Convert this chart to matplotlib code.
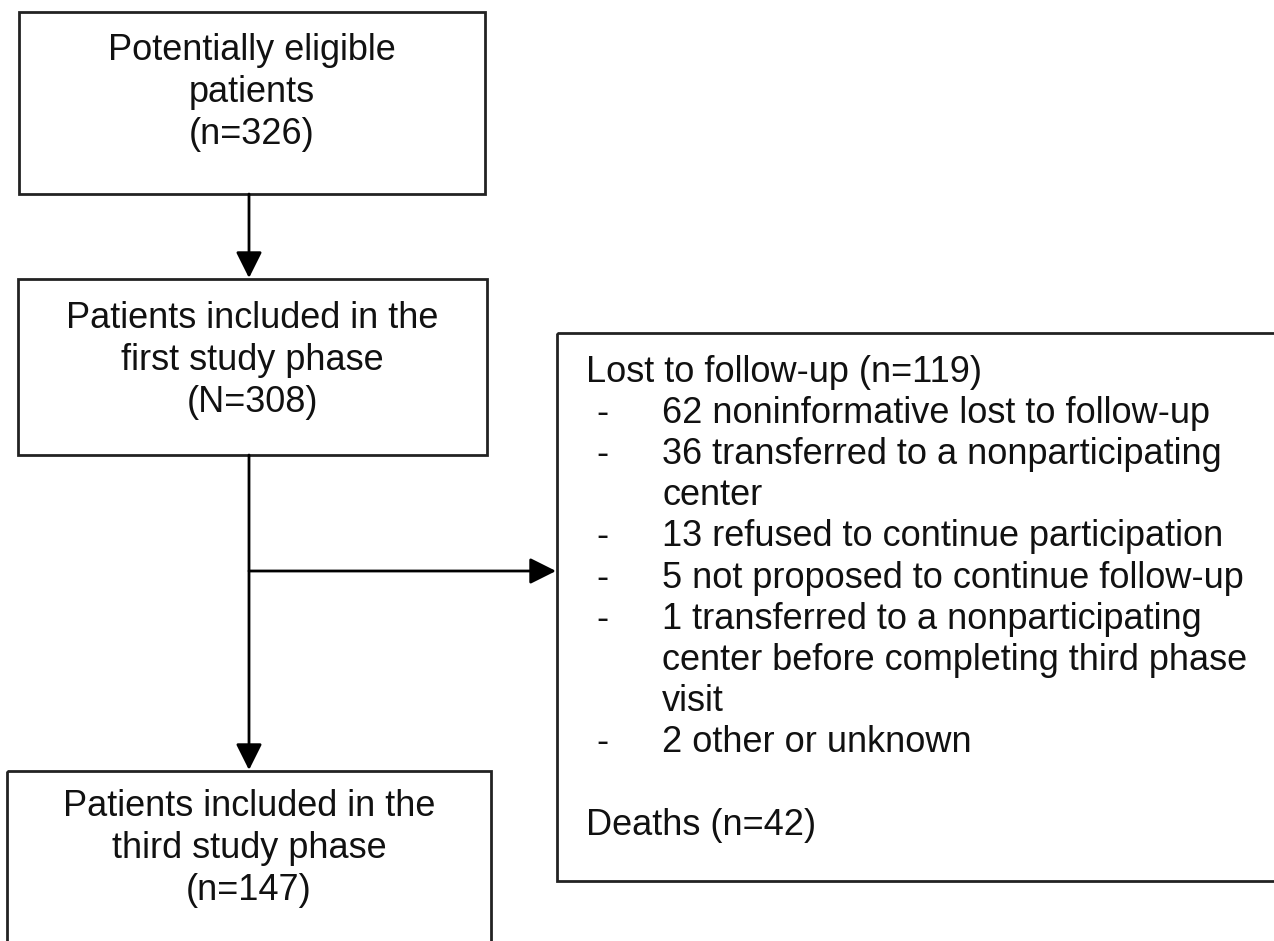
import matplotlib.pyplot as plt
from matplotlib.patches import Rectangle

# box texts (flow of the study)
box_labels = [
    ["Potentially eligible", "patients", "(n=326)"],
    ["Patients included in the", "first study phase", "(N=308)"],
    ["Patients included in the", "third study phase", "(n=147)"],
]
lost_title = "Lost to follow-up (n=119)"
lost_items = [
    ["62 noninformative lost to follow-up"],
    ["36 transferred to a nonparticipating", "center"],
    ["13 refused to continue participation"],
    ["5 not proposed to continue follow-up"],
    ["1 transferred to a nonparticipating", "center before completing third phase", "visit"],
    ["2 other or unknown"],
]
deaths_text = "Deaths (n=42)"

plt.rcParams['font.family'] = ['Liberation Sans', 'DejaVu Sans']
FS = 26
LW = 2.0

fig = plt.figure(figsize=(12.74, 9.41), dpi=100)
ax = fig.add_axes([0, 0, 1, 1])
ax.set_xlim(0, 1274)
ax.set_ylim(941, 0)
ax.axis("off")

# main boxes: (x0, y0, x1, y1) in pixels
box_pos = [(19, 12, 485, 194), (18, 279, 487, 455), (7, 771, 491, 1000)]
text_top = [50, 318, 807]
line_gap = 42

for (x0, y0, x1, y1), lines, ty in zip(box_pos, box_labels, text_top):
    ax.add_patch(Rectangle((x0, y0), x1 - x0, y1 - y0, fill=False, lw=LW, ec="#222222"))
    cx = (x0 + x1) / 2
    for i, ln in enumerate(lines):
        ax.text(cx, ty + i * line_gap, ln, ha="center", va="center", fontsize=FS, color="#111111")

# side box
sx0, sy0, sx1, sy1 = 557, 333, 1300, 881
ax.add_patch(Rectangle((sx0, sy0), sx1 - sx0, sy1 - sy0, fill=False, lw=LW, ec="#222222"))

row_h = 41.2
y = 372
ax.text(586, y, lost_title, ha="left", va="center", fontsize=FS, color="#111111")
for item in lost_items:
    y += row_h
    ax.text(602, y, "-", ha="center", va="center", fontsize=FS, color="#111111")
    for j, ln in enumerate(item):
        if j > 0:
            y += row_h
        ax.text(662, y, ln, ha="left", va="center", fontsize=FS, color="#111111")
y += 2 * row_h
ax.text(586, y, deaths_text, ha="left", va="center", fontsize=FS, color="#111111")

# connectors
arrow_kw = dict(arrowstyle="-|>,head_length=0.8,head_width=0.4", color="black",
                lw=LW, shrinkA=0, shrinkB=0, mutation_scale=20)
cx = 249
ax.annotate("", xy=(cx, 278), xytext=(cx, 194), arrowprops=arrow_kw)
ax.annotate("", xy=(cx, 770), xytext=(cx, 455), arrowprops=arrow_kw)
ax.annotate("", xy=(sx0 - 1, 571), xytext=(cx, 571), arrowprops=arrow_kw)

fig.savefig("out.png", dpi=100)
